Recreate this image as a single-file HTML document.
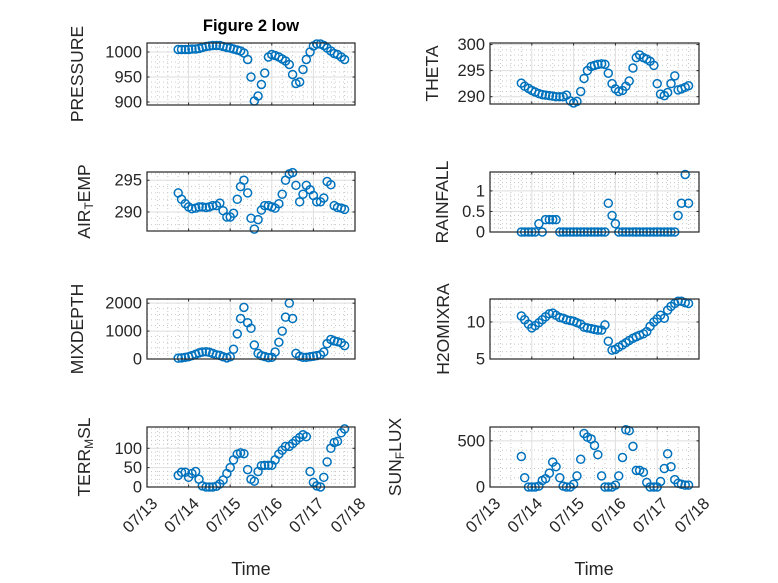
<!DOCTYPE html>
<html><head><meta charset="utf-8"><style>
html,body{margin:0;padding:0;background:#fff;}
svg{display:block;font-family:"Liberation Sans","DejaVu Sans",sans-serif;}
</style></head><body>
<svg id="fig" width="778" height="583" viewBox="0 0 778 583" xmlns="http://www.w3.org/2000/svg">
<rect x="0" y="0" width="778" height="583" fill="#fff"/>
<text x="251" y="31" text-anchor="middle" font-size="16.5" font-weight="bold" fill="#000">Figure 2 low</text>
<text x="251" y="575" text-anchor="middle" font-size="18" fill="#262626">Time</text>
<text x="594" y="575" text-anchor="middle" font-size="18" fill="#262626">Time</text>
</svg>
<script>
const times = [13.75,13.83,13.92,14.0,14.08,14.17,14.25,14.33,14.42,14.5,14.58,14.67,14.75,14.83,14.92,15.0,15.08,15.17,15.25,15.33,15.42,15.5,15.58,15.67,15.75,15.83,15.92,16.0,16.08,16.17,16.25,16.33,16.42,16.5,16.58,16.67,16.75,16.83,16.92,17.0,17.08,17.17,17.25,17.33,17.42,17.5,17.58,17.67,17.75];
const pressure = [1005,1005,1005,1005,1006,1006,1007,1009,1011,1012,1013,1013,1013,1011,1009,1008,1006,1004,1002,998,985,950,902,912,935,958,990,995,993,990,986,982,975,955,937,940,965,985,1000,1012,1016,1016,1013,1008,1002,997,995,990,985];
const theta = [292.6,292,291.6,291.2,290.9,290.6,290.4,290.3,290.2,290.1,290,290,290,290.3,289.2,288.8,289.1,291,293.5,295,295.8,296,296.2,296.3,296.2,294.5,292.5,291.5,291,291.2,292,293,295.5,297.5,298,297.5,297.2,296.8,296,292.5,290.5,290.2,290.8,292.5,294,291.3,291.5,291.8,292.1];
const airTemp = [293,292,291.3,290.8,290.5,290.6,290.8,290.8,290.7,290.8,291,291,291.4,290.2,289.2,289.2,289.8,292,294,295,293,289,287.3,288.8,290.3,291,291,290.8,290.6,291.3,292.8,295,296,296.2,294.2,291.6,292.8,294.2,293.5,292.6,291.6,291.6,292.2,294.8,294.3,291,290.7,290.6,290.4];
const rainfall = [0,0,0,0,0,0.2,0,0.3,0.3,0.3,0.3,0,0,0,0,0,0,0,0,0,0,0,0,0,0,0.7,0.4,0.2,0,0,0,0,0,0,0,0,0,0,0,0,0,0,0,0,0,0.4,0.7,1.4,0.7];
const mixDepth = [30,40,60,80,120,170,220,250,260,240,200,150,130,80,40,80,350,900,1450,1850,1300,1100,500,200,120,90,50,60,250,600,1000,1500,2000,1450,200,100,60,60,80,100,120,150,250,550,700,650,620,580,480];
const h2oMix = [10.8,10.3,9.7,9.2,9.5,9.9,10.3,10.7,11.1,11.2,10.9,10.6,10.5,10.3,10.2,10.1,9.9,9.7,9.3,9.2,9.1,9.0,8.9,8.9,9.6,7.4,6.2,6.3,6.6,6.9,7.2,7.5,7.8,8.0,8.2,8.4,8.7,9.4,10.0,10.4,10.9,10.5,11.6,12.1,12.5,12.8,12.8,12.6,12.5];
const terrMsl = [30,38,38,25,35,40,20,3,0,0,0,2,8,18,35,50,70,85,88,86,45,20,15,40,55,56,56,56,70,85,95,105,105,112,120,128,135,130,40,12,3,0,25,65,100,115,118,140,150];
const sunFlux = [330,100,0,0,0,10,70,90,150,270,220,100,10,0,0,30,120,300,580,540,520,450,350,120,0,0,0,20,120,320,620,610,440,180,180,160,50,0,0,0,60,200,360,220,80,40,30,20,20];
const xTickValues = [13,14,15,16,17,18];
const xTickLabels = ["07/13","07/14","07/15","07/16","07/17","07/18"];
const pressureTicks = [900,950,1000];
const thetaTicks = [290,295,300];
const airTicks = [290,295];
const rainTicks = [0,0.5,1];
const mixTicks = [0,1000,2000];
const h2oTicks = [5,10];
const terrTicks = [0,50,100];
const sunTicks = [0,500];

const NS="http://www.w3.org/2000/svg";
const svg=document.getElementById('fig');
function mk(tag,attrs,parent){const e=document.createElementNS(NS,tag);for(const k in attrs)e.setAttribute(k,attrs[k]);(parent||svg).appendChild(e);return e;}

const panels=[
 {name:'pressure',x0:147,x1:355,y0:43,y1:105,ylim:[894,1018],ticks:pressureTicks,minor:10,data:pressure,label:['PRESSURE'],lx:77,xt:false},
 {name:'theta',x0:490,x1:699,y0:43,y1:104,ylim:[288.6,300.3],ticks:thetaTicks,minor:1,data:theta,label:['THETA'],lx:432,xt:false},
 {name:'air-temp',x0:147,x1:355,y0:172,y1:231,ylim:[287,296.3],ticks:airTicks,minor:1,data:airTemp,label:['AIR','T','EMP'],lx:84,xt:false},
 {name:'rainfall',x0:490,x1:699,y0:172,y1:232,ylim:[0,1.46],ticks:rainTicks,minor:0.1,data:rainfall,label:['RAINFALL'],lx:442,xt:false},
 {name:'mixdepth',x0:147,x1:355,y0:299,y1:359,ylim:[0,2150],ticks:mixTicks,minor:200,data:mixDepth,label:['MIXDEPTH'],lx:77,xt:false},
 {name:'h2omixra',x0:490,x1:699,y0:299,y1:359,ylim:[5,13.1],ticks:h2oTicks,minor:1,data:h2oMix,label:['H2OMIXRA'],lx:443,xt:false},
 {name:'terr-msl',x0:147,x1:355,y0:427,y1:487,ylim:[0,155],ticks:terrTicks,minor:10,data:terrMsl,label:['TERR','M','SL'],lx:84,xt:true},
 {name:'sun-flux',x0:490,x1:699,y0:427,y1:487,ylim:[0,650],ticks:sunTicks,minor:100,data:sunFlux,label:['SUN','F','LUX'],lx:395,xt:true}
];

panels.forEach(p=>{
 const g=mk('g',{});
 
 
 const xs=v=>p.x0+(v-13)/(18-13)*(p.x1-p.x0);
 const ys=v=>p.y1-(v-p.ylim[0])/(p.ylim[1]-p.ylim[0])*(p.y1-p.y0);
 mk('rect',{x:p.x0,y:p.y0,width:p.x1-p.x0,height:p.y1-p.y0,fill:'#fff'},g);
 for(let d=13;d<18;d+=0.25){ if(Math.abs(d-Math.round(d))<1e-6)continue;
  mk('line',{x1:xs(d),x2:xs(d),y1:p.y0,y2:p.y1,stroke:'#c8c8c8','stroke-width':1,'stroke-dasharray':'1,3'},g);}
 const start=Math.ceil(p.ylim[0]/p.minor)*p.minor;
 for(let v=start;v<=p.ylim[1]+1e-9;v+=p.minor){
  if(p.ticks.some(t=>Math.abs(t-v)<1e-6))continue;
  mk('line',{x1:p.x0,x2:p.x1,y1:ys(v),y2:ys(v),stroke:'#c8c8c8','stroke-width':1,'stroke-dasharray':'1,3'},g);}
 xTickValues.forEach(t=>mk('line',{x1:xs(t),x2:xs(t),y1:p.y0,y2:p.y1,stroke:'#dedede','stroke-width':1},g));
 p.ticks.forEach(t=>mk('line',{x1:p.x0,x2:p.x1,y1:ys(t),y2:ys(t),stroke:'#dedede','stroke-width':1},g));
 xTickValues.forEach(t=>{mk('line',{x1:xs(t),x2:xs(t),y1:p.y1,y2:p.y1-2.5,stroke:'#262626'},g);mk('line',{x1:xs(t),x2:xs(t),y1:p.y0,y2:p.y0+2.5,stroke:'#262626'},g);});
 p.ticks.forEach(t=>{
  mk('line',{x1:p.x0,x2:p.x0+2.5,y1:ys(t),y2:ys(t),stroke:'#262626'},g);
  mk('line',{x1:p.x1,x2:p.x1-2.5,y1:ys(t),y2:ys(t),stroke:'#262626'},g);
  const tl=mk('text',{x:p.x0-5,y:ys(t)+5.5,'text-anchor':'end','font-size':16.5,fill:'#262626'},g);
  
  
  tl.textContent=String(t);
 });
 p.data.forEach((v,i)=>{
  const c=mk('circle',{cx:xs(times[i]),cy:ys(v),r:4,fill:'none',stroke:'#0072BD','stroke-width':1.5},g);
  
  
 });
 mk('rect',{x:p.x0,y:p.y0,width:p.x1-p.x0,height:p.y1-p.y0,fill:'none',stroke:'#262626','stroke-width':1.2},g);
 const cy=(p.y0+p.y1)/2;
 const yl=mk('text',{x:p.lx,y:cy,'text-anchor':'middle','font-size':17.5,fill:'#262626',transform:`rotate(-90 ${p.lx} ${cy})`,'dominant-baseline':'central'},g);
 
 
 if(p.label.length===1){yl.textContent=p.label[0];}
 else{
  const a=mk('tspan',{},yl);a.textContent=p.label[0];
  const b=mk('tspan',{'font-size':12,dy:5},yl);b.textContent=p.label[1];
  const c=mk('tspan',{dy:-5},yl);c.textContent=p.label[2];
 }
 if(p.xt){
  xTickValues.forEach((t,i)=>{
   const x=xs(t)+8,y=p.y1+14;
   const tl=mk('text',{x:x,y:y,'text-anchor':'end','font-size':16.5,fill:'#262626',transform:`rotate(-45 ${x} ${y})`,'dominant-baseline':'central'},g);
   
   
   tl.textContent=xTickLabels[i];
  });
 }
});
</script>
</body></html>
